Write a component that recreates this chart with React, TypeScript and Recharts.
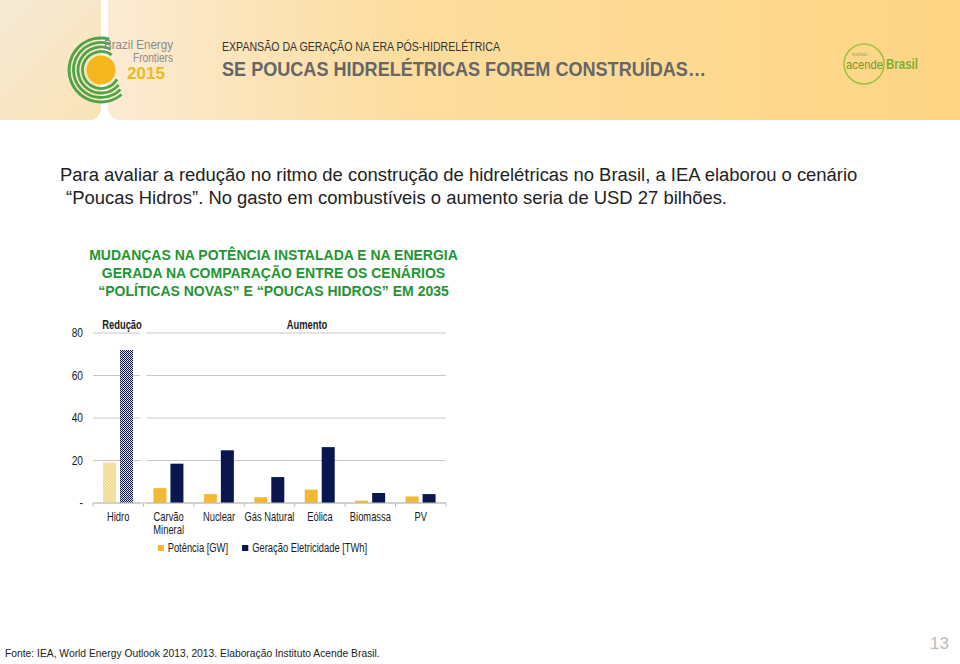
import React from "react";
import {
  BarChart, Bar, XAxis, YAxis, CartesianGrid, Cell, Legend,
} from "recharts";

const categories = ["Hidro", "Carvão Mineral", "Nuclear", "Gás Natural", "Eólica", "Biomassa", "PV"];
const tickLabels = [["Hidro"], ["Carvão", "Mineral"], ["Nuclear"], ["Gás Natural"], ["Eólica"], ["Biomassa"], ["PV"]];
const potenciaGW = [19, 7, 4.2, 2.7, 6.3, 1.1, 3.1];
const geracaoTWh = [72, 18.5, 24.8, 12.2, 26.3, 4.7, 4.2];
const yTicks = [0, 20, 40, 60, 80];

const data = categories.map((c, i) => ({
  category: c,
  gw: potenciaGW[i],
  twh: geracaoTWh[i],
}));

const SANS = "'Liberation Sans', Arial, sans-serif";
const NARROW_X = 0.78; // the slide uses Arial Narrow, squeeze Liberation Sans instead
const YELLOW = "#F2B935";
const NAVY = "#0A174E";
const GREEN = "#1E9632";

// plot box inside the chart svg
const CH_W = 440;
const CH_H = 270;
const M = { top: 33, right: 34, bottom: 22, left: 13 };
const Y_W = 40;
const PLOT_W = CH_W - M.left - M.right - Y_W;
const BAND = PLOT_W / categories.length;

const gridLine = (props: any) => {
  const { x1, x2, y1, key } = props;
  const split = x1 + BAND;
  return (
    <g key={key}>
      <line x1={x1} x2={split - 3} y1={y1} y2={y1} stroke="#c8c8c8" />
      <line x1={split + 3} x2={x2} y1={y1} y2={y1} stroke="#c8c8c8" />
    </g>
  );
};

const CategoryTick = (props: any) => {
  const { x, y, payload, index } = props;
  const idx = payload.index ?? index;
  const lines = tickLabels[idx] || [payload.value];
  const last = idx === categories.length - 1;
  return (
    <g>
      <line x1={x - BAND / 2} x2={x - BAND / 2} y1={y} y2={y + 4} stroke="#bdbdbd" />
      {last && <line x1={x + BAND / 2} x2={x + BAND / 2} y1={y} y2={y + 4} stroke="#bdbdbd" />}
      <g transform={`translate(${x},${y}) scale(${NARROW_X},1)`}>
        {lines.map((t: string, i: number) => (
          <text key={i} x={0} y={18 + i * 13} textAnchor="middle"
            fontFamily={SANS} fontSize={12} fill="#1a1a1a">{t}</text>
        ))}
      </g>
    </g>
  );
};

const ValueTick = (props: any) => {
  const { x, y, payload } = props;
  return (
    <g transform={`translate(${x},${y}) scale(0.85,1)`}>
      <text x={0} y={0} dy="0.35em" textAnchor="end" fontFamily={SANS} fontSize={12} fill="#1a1a1a">
        {payload.value === 0 ? "-" : payload.value}
      </text>
    </g>
  );
};

const LegendContent = () => (
  <div style={{ display: "flex", justifyContent: "center", fontFamily: SANS, fontSize: 12, color: "#1a1a1a",
    transform: `scaleX(${NARROW_X})`, transformOrigin: "center", paddingLeft: 6 }}>
    <span style={{ display: "flex", alignItems: "center", marginRight: 18 }}>
      <span style={{ width: 8, height: 6, background: YELLOW, marginRight: 5 }} />Potência [GW]
    </span>
    <span style={{ display: "flex", alignItems: "center" }}>
      <span style={{ width: 8, height: 6, background: NAVY, marginRight: 5 }} />Geração Eletricidade [TWh]
    </span>
  </div>
);

const arc = (cx: number, cy: number, r: number, a0: number, a1: number) => {
  const p = (a: number) => [cx + r * Math.cos((a * Math.PI) / 180), cy + r * Math.sin((a * Math.PI) / 180)];
  const [sx, sy] = p(a0);
  const [ex, ey] = p(a1);
  return `M ${sx} ${sy} A ${r} ${r} 0 1 0 ${ex} ${ey}`;
};

const narrowLabel: React.CSSProperties = {
  position: "absolute", textAlign: "center", fontWeight: "bold", fontSize: 12, color: "#1a1a1a",
  transform: `scaleX(${NARROW_X})`, transformOrigin: "center",
};

export default function App() {
  return (
    <div style={{ position: "fixed", left: 0, top: 0, width: 960, height: 664, background: "#fff", overflow: "hidden", fontFamily: SANS }}>
      {/* header */}
      <div style={{ position: "absolute", left: 0, top: 0, width: 101, height: 120, borderBottomRightRadius: 12,
        background: "linear-gradient(135deg, #F5EAD5 0%, #FBE3B6 100%)" }} />
      <div style={{ position: "absolute", left: 108, top: 0, width: 852, height: 120, borderBottomLeftRadius: 12,
        background: "linear-gradient(to right, #FBEBD3 0%, #FDDD9E 35%, #FED584 100%)" }} />
      <svg style={{ position: "absolute", left: 0, top: 0 }} width={960} height={120}>
        {[[32, -75, 50], [27.5, -70, 45], [23, -65, 40], [18.5, -55, 30]].map(([r, a, b], i) => (
          <path key={i} d={arc(101, 70, r, a, b)} fill="none" stroke="#4FA448" strokeWidth={2.8} />
        ))}
        <circle cx={101} cy={70} r={14.5} fill="#F5B81C" />
        <text x={104} y={49} fontFamily={SANS} fontSize={12} fill="#8a8a8a" textLength={69} lengthAdjust="spacingAndGlyphs">Brazil Energy</text>
        <text x={133} y={62} fontFamily={SANS} fontSize={12} fill="#8a8a8a" textLength={40} lengthAdjust="spacingAndGlyphs">Frontiers</text>
        <text x={127} y={79} fontFamily={SANS} fontSize={17} fontWeight="bold" fill="#F2B61F" textLength={38} lengthAdjust="spacingAndGlyphs">2015</text>
        <text x={222} y={51} fontFamily={SANS} fontSize={12.5} fill="#333" textLength={278} lengthAdjust="spacingAndGlyphs">EXPANSÃO DA GERAÇÃO NA ERA PÓS-HIDRELÉTRICA</text>
        <text x={222} y={76} fontFamily={SANS} fontSize={20} fontWeight="bold" fill="#666" textLength={484} lengthAdjust="spacingAndGlyphs">SE POUCAS HIDRELÉTRICAS FOREM CONSTRUÍDAS…</text>
        <circle cx={864} cy={64} r={20} fill="none" stroke="#9DC23E" strokeWidth={1.5} />
        <text x={852} y={56} fontFamily={SANS} fontSize={4.5} fill="#8aa855">instituto</text>
        <text x={846} y={69} fontFamily={SANS} fontSize={13} fill="#6F9A2C" textLength={37} lengthAdjust="spacingAndGlyphs">acende</text>
        <text x={886} y={69} fontFamily={SANS} fontSize={15} fontWeight="bold" fill="#7DAF35" textLength={32} lengthAdjust="spacingAndGlyphs">Brasil</text>
      </svg>

      {/* intro text */}
      <div style={{ position: "absolute", left: 60, top: 163, fontSize: 18.45, color: "#222", lineHeight: "23px", whiteSpace: "nowrap" }}>
        Para avaliar a redução no ritmo de construção de hidrelétricas no Brasil, a IEA elaborou o cenário<br />
        <span style={{ marginLeft: 6 }}>“Poucas Hidros”. No gasto em combustíveis o aumento seria de USD 27 bilhões.</span>
      </div>

      {/* chart title */}
      <div style={{ position: "absolute", left: 60, top: 246, width: 427, textAlign: "center", color: GREEN,
        fontWeight: "bold", fontSize: 14, lineHeight: "18px", whiteSpace: "nowrap" }}>
        MUDANÇAS NA POTÊNCIA INSTALADA E NA ENERGIA<br />
        GERADA NA COMPARAÇÃO ENTRE OS CENÁRIOS<br />
        “POLÍTICAS NOVAS” E “POUCAS HIDROS” EM 2035
      </div>

      <div style={{ ...narrowLabel, left: 90, top: 318, width: 64 }}>Redução</div>
      <div style={{ ...narrowLabel, left: 157, top: 318, width: 300 }}>Aumento</div>

      <div style={{ position: "absolute", left: 40, top: 300 }}>
        <BarChart width={CH_W} height={CH_H} data={data} margin={M} barSize={13} barGap={4}>
          <defs>
            <pattern id="hatchGW" width="3" height="3" patternUnits="userSpaceOnUse">
              <rect width="3" height="3" fill="#F3D98C" />
              <path d="M0 3 L3 0" stroke="#FBF1D2" strokeWidth="0.8" />
            </pattern>
            <pattern id="checkTWh" width="2" height="2" patternUnits="userSpaceOnUse">
              <rect width="2" height="2" fill={NAVY} />
              <rect x="1" y="0" width="1" height="1" fill="#F2F3F7" />
              <rect x="0" y="1" width="1" height="1" fill="#C4C8D8" />
            </pattern>
          </defs>
          <CartesianGrid vertical={false} horizontal={gridLine} />
          <XAxis dataKey="category" interval={0} tickSize={0} tickMargin={0}
            axisLine={{ stroke: "#bdbdbd" }} tickLine={false} tick={<CategoryTick />} height={45} />
          <YAxis domain={[0, 80]} ticks={yTicks} width={Y_W} axisLine={false} tickLine={false}
            tickMargin={4} tick={<ValueTick />} />
          <Legend layout="horizontal" verticalAlign="middle" align="center" content={<LegendContent />}
            wrapperStyle={{ top: 241, left: 0, width: CH_W }} />
          <Bar dataKey="gw" name="Potência [GW]" fill={YELLOW} isAnimationActive={false}>
            {data.map((d, i) => <Cell key={d.category} fill={i === 0 ? "url(#hatchGW)" : YELLOW} />)}
          </Bar>
          <Bar dataKey="twh" name="Geração Eletricidade [TWh]" fill={NAVY} isAnimationActive={false}>
            {data.map((d, i) => <Cell key={d.category} fill={i === 0 ? "url(#checkTWh)" : NAVY} />)}
          </Bar>
        </BarChart>
      </div>

      {/* footer */}
      <div style={{ position: "absolute", left: 5, top: 648, fontSize: 10.3, color: "#222", whiteSpace: "nowrap" }}>
        Fonte: IEA, World Energy Outlook 2013, 2013. Elaboração Instituto Acende Brasil.
      </div>
      <div style={{ position: "absolute", left: 930, top: 634, fontSize: 17, color: "#bbb" }}>13</div>
    </div>
  );
}
